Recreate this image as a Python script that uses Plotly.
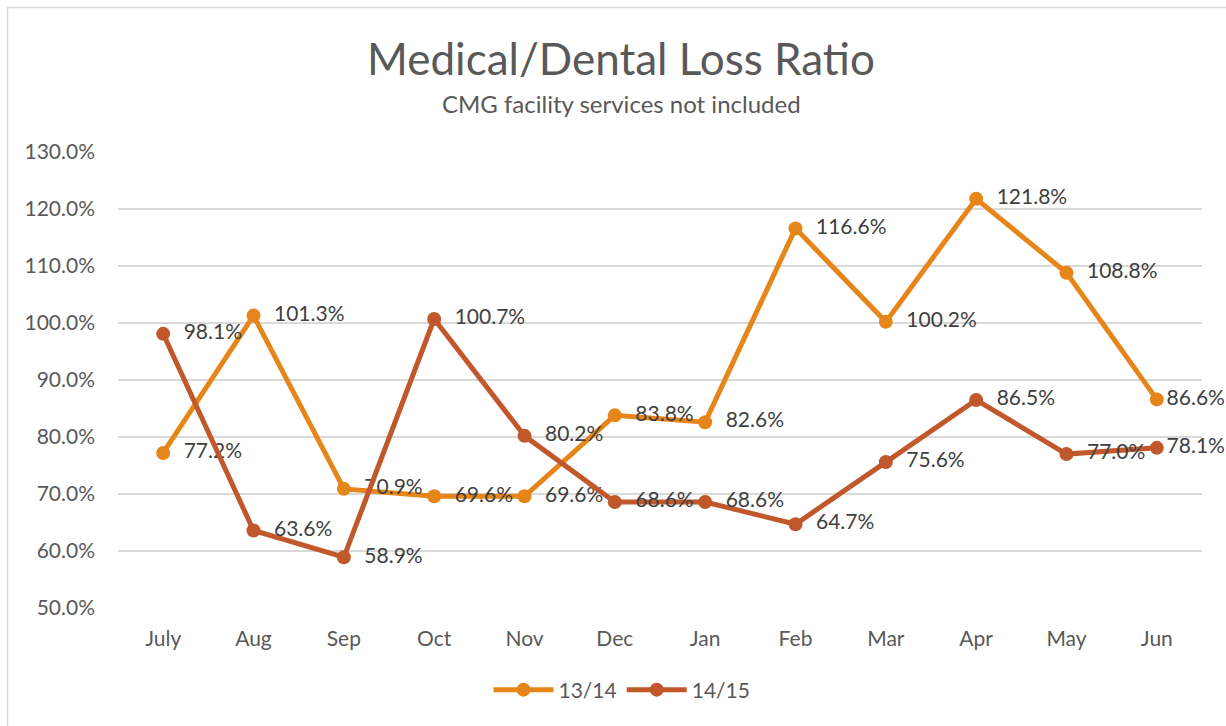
import plotly.graph_objects as go

months = ["July", "Aug", "Sep", "Oct", "Nov", "Dec", "Jan", "Feb", "Mar", "Apr", "May", "Jun"]
s1314 = [77.2, 101.3, 70.9, 69.6, 69.6, 83.8, 82.6, 116.6, 100.2, 121.8, 108.8, 86.6]
s1415 = [98.1, 63.6, 58.9, 100.7, 80.2, 68.6, 68.6, 64.7, 75.6, 86.5, 77.0, 78.1]
yticks = [50, 60, 70, 80, 90, 100, 110, 120, 130]

C1 = "#E6861A"
C2 = "#C0582B"
TXT = "#595959"
FONT = "Lato"

W, H = 1226, 726
SL, SR, ST, SB = 118, 1202, 152, 608  # plot area in screen pixels
L, T = SL, ST
R = W - SR
B = H - SB
pw, ph = W - L - R, H - T - B

def px(x):
    return (x - L) / pw

def py(y):
    return (H - B - y) / ph

def labels(vals):
    out = []
    for i, v in enumerate(vals):
        pad = "" if i == len(vals) - 1 else "  "
        out.append(f"{pad}{v:.1f}%")
    return out

fig = go.Figure()
for name, vals, col in [("13/14", s1314, C1), ("14/15", s1415, C2)]:
    fig.add_trace(go.Scatter(
        x=months, y=vals, name=name, mode="lines+markers+text",
        line=dict(color=col, width=5),
        marker=dict(color=col, size=14),
        text=labels(vals),
        textposition="middle right",
        textfont=dict(family=FONT, size=21, color="#404040"),
        cliponaxis=False,
    ))

fig.add_shape(type="rect", xref="paper", yref="paper",
              x0=px(7.5), x1=px(1240), y0=py(7.5), y1=py(740),
              line=dict(color="#D9D9D9", width=1.5), fillcolor="rgba(0,0,0,0)", layer="below")

fig.update_layout(
    width=W, height=H,
    margin=dict(l=L, r=R, t=T, b=B, autoexpand=False),
    paper_bgcolor="white", plot_bgcolor="white",
    font=dict(family=FONT, color=TXT),
    title=dict(text="Medical/Dental Loss Ratio", x=621 / W, xanchor="center",
               y=1 - 60 / H, yanchor="middle", font=dict(size=44, color=TXT, family=FONT)),
    annotations=[dict(text="CMG facility services not included", xref="paper", yref="paper",
                      x=px(621), y=py(103), xanchor="center", yanchor="middle",
                      showarrow=False, font=dict(size=24, color=TXT, family=FONT))],
    xaxis=dict(range=[-0.5, 11.5], showgrid=False, showline=False, zeroline=False, ticks="",
               automargin=False, tickfont=dict(size=21, color=TXT, family=FONT),
               ticklabelstandoff=16),
    yaxis=dict(range=[50, 130], tickvals=yticks, ticktext=[f"{v:.1f}%" for v in yticks],
               showgrid=True, gridcolor="#D9D9D9", gridwidth=1.5, zeroline=False,
               showline=False, ticks="", tickfont=dict(size=21, color=TXT, family=FONT),
               ticklabelstandoff=22, automargin=False),
    legend=dict(orientation="h", x=px(622), xanchor="center", y=py(690), yanchor="middle",
                font=dict(size=21, color=TXT, family=FONT), itemwidth=60),
)

fig.write_html("out.html", config={"displayModeBar": False},
               post_script="document.body.style.margin='0';document.body.style.overflow='hidden';")
